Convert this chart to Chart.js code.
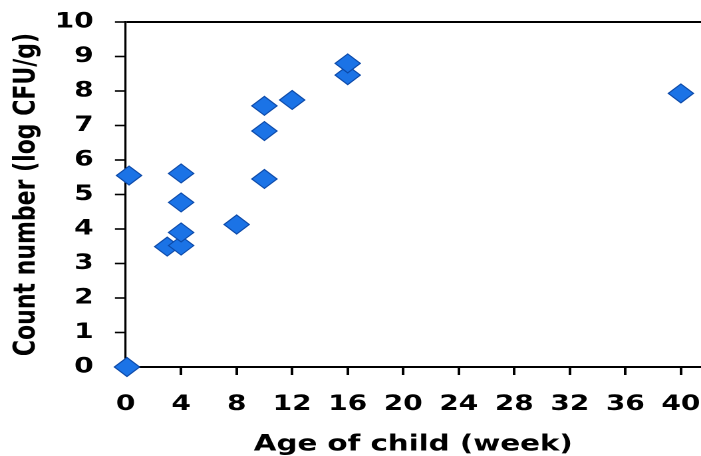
<!DOCTYPE html>
<html>
<head>
<meta charset="utf-8">
<script src="https://cdn.jsdelivr.net/npm/chart.js@4.4.1/dist/chart.umd.min.js"></script>
<style>
  html, body { margin: 0; padding: 0; background: #fff; overflow: hidden; }
  /* the figure is laid out at 527px and widened to the full 701px frame */
  #frame { width: 527px; height: 456px; transform: scaleX(1.3302); transform-origin: 0 0; }
</style>
</head>
<body>
<div id="frame"><canvas id="chart" width="527" height="456"></canvas></div>
<script>
// Age of each child (weeks) and the matching count (log CFU/g)
const ageWeeks = [0.1, 0.25, 3, 4, 4, 4, 4, 8, 10, 10, 10, 12, 16, 16, 40];
const logCount = [0, 5.55, 3.49, 3.52, 3.9, 4.77, 5.61, 4.13, 5.45, 6.84, 7.57, 7.74, 8.46, 8.8, 7.93];

const xTickValues = [0, 4, 8, 12, 16, 20, 24, 28, 32, 36, 40];
const yTickValues = [0, 1, 2, 3, 4, 5, 6, 7, 8, 9, 10];

const xTitle = 'Age of child (week)';
const yTitle = 'Count number (log CFU/g)';

const points = ageWeeks.map((a, i) => ({ x: a, y: logCount[i] }));

const tickFont = { family: '"DejaVu Sans", sans-serif', weight: 'bold', size: 21 };
const titleFont = { family: '"DejaVu Sans", sans-serif', weight: 'bold', size: 22 };

new Chart(document.getElementById('chart'), {
  type: 'scatter',
  data: {
    datasets: [{
      data: points,
      pointStyle: 'rectRot',
      pointRadius: 9.5,
      pointHoverRadius: 9.5,
      backgroundColor: '#1b73e6',
      borderColor: '#0c49a8',
      borderWidth: 1,
      clip: false
    }]
  },
  options: {
    responsive: false,
    devicePixelRatio: 2,
    animation: false,
    events: [],
    layout: { autoPadding: false, padding: { top: 22, right: 0, bottom: 0, left: 0 } },
    plugins: { legend: { display: false }, tooltip: { enabled: false } },
    scales: {
      x: {
        type: 'linear',
        min: 0,
        max: 41.45,
        afterBuildTicks: s => { s.ticks = xTickValues.map(v => ({ value: v })); },
        afterFit: s => { s.height = 89; s.paddingLeft = 0; s.paddingRight = 0; },
        ticks: {
          color: '#000',
          font: tickFont,
          padding: 17,
          maxRotation: 0,
          autoSkip: false,
          callback: v => String(v)
        },
        grid: {
          drawOnChartArea: false,
          tickLength: 8,
          tickColor: '#000',
          tickWidth: 2
        },
        border: { color: '#000', width: 2 },
        title: {
          display: true,
          text: xTitle,
          color: '#000',
          font: titleFont,
          padding: { top: 0, bottom: -2 }
        }
      },
      y: {
        type: 'linear',
        min: 0,
        max: 10,
        afterBuildTicks: s => { s.ticks = yTickValues.map(v => ({ value: v })); },
        afterFit: s => { s.width = 94.4; s.paddingTop = 0; s.paddingBottom = 0; },
        ticks: {
          color: '#000',
          font: tickFont,
          padding: 16,
          autoSkip: false,
          callback: v => String(v)
        },
        grid: {
          color: c => (c.tick && c.tick.value === 10 ? '#000' : 'rgba(0,0,0,0)'),
          lineWidth: 2,
          tickLength: 8,
          tickColor: '#000',
          tickWidth: 1.6
        },
        border: { color: '#000', width: 1.6 },
        title: {
          display: true,
          text: yTitle,
          color: '#000',
          font: titleFont,
          padding: { top: 7, bottom: 0 }
        }
      }
    }
  }
});
</script>
</body>
</html>
